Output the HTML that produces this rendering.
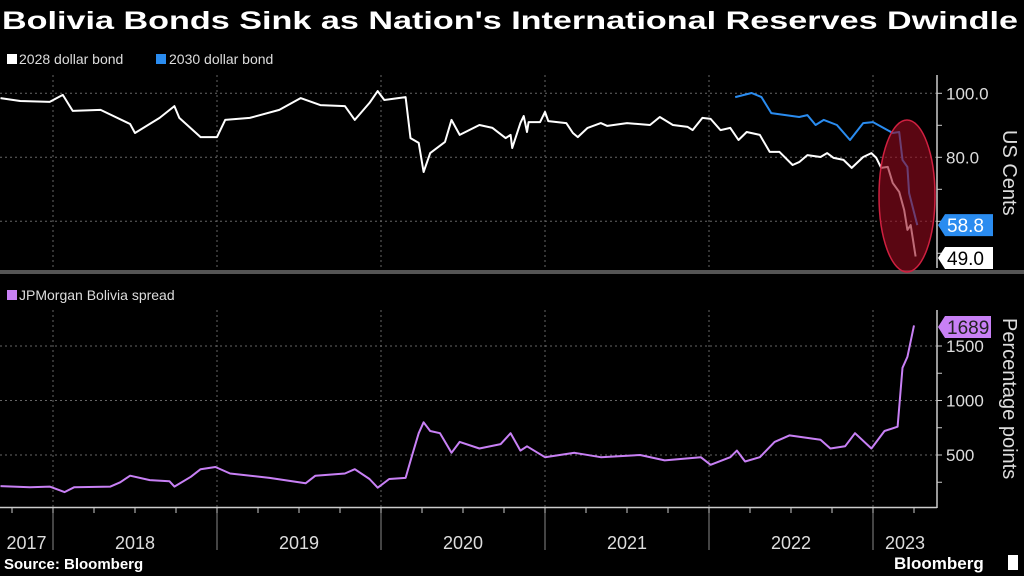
<!DOCTYPE html>
<html><head><meta charset="utf-8">
<style>
html,body{margin:0;padding:0;background:#000;}
svg{display:block;}
text{font-family:"Liberation Sans","DejaVu Sans",sans-serif;}
</style></head>
<body>
<svg id="chart" width="1024" height="576" viewBox="0 0 1024 576" xmlns="http://www.w3.org/2000/svg">
<rect x="0" y="0" width="1024" height="576" fill="#000"/>
<text x="2" y="29" fill="#fff" font-family="DejaVu Sans, sans-serif" font-weight="bold" font-size="25" textLength="1016" lengthAdjust="spacingAndGlyphs">Bolivia Bonds Sink as Nation's International Reserves Dwindle</text>
<g>
<rect x="7" y="54" width="10" height="10" fill="#fff"/>
<text x="19" y="64" fill="#ddd" font-size="14">2028 dollar bond</text>
<rect x="156" y="54" width="10" height="10" fill="#2a8cf0"/>
<text x="169" y="64" fill="#ddd" font-size="14">2030 dollar bond</text>
</g>
<g>
<rect x="7" y="290" width="10" height="10" fill="#c880f5"/>
<text x="19" y="300" fill="#ddd" font-size="14">JPMorgan Bolivia spread</text>
</g>
<rect x="0" y="270" width="1024" height="4" fill="#555"/>
<g id="grid"></g>
<g id="series"></g>
<g id="axes"></g>
<text x="0" y="0" transform="translate(1003,130) rotate(90)" fill="#ddd" font-size="20">US Cents</text>
<text x="0" y="0" transform="translate(1003,318) rotate(90)" fill="#ddd" font-size="20">Percentage points</text>
<text x="4" y="569" fill="#fff" font-size="15" font-weight="bold">Source: Bloomberg</text>
<text x="894" y="569" fill="#fff" font-size="17" font-weight="bold">Bloomberg</text>
<rect x="1008" y="555" width="10" height="15" fill="#fff"/>
</svg>
<script>
const bond2028Dates=[2017.68,2017.80,2017.98,2018.06,2018.12,2018.29,2018.47,2018.50,2018.65,2018.74,2018.77,2018.90,2019.00,2019.05,2019.20,2019.38,2019.51,2019.63,2019.78,2019.84,2019.93,2019.98,2020.02,2020.15,2020.18,2020.23,2020.26,2020.30,2020.39,2020.43,2020.48,2020.60,2020.68,2020.76,2020.79,2020.80,2020.85,2020.87,2020.89,2020.90,2020.97,2021.00,2021.02,2021.13,2021.17,2021.20,2021.26,2021.34,2021.38,2021.50,2021.64,2021.70,2021.78,2021.87,2021.90,2021.96,2022.01,2022.07,2022.13,2022.18,2022.23,2022.31,2022.37,2022.43,2022.51,2022.55,2022.60,2022.68,2022.72,2022.76,2022.82,2022.87,2022.94,2022.99,2023.02,2023.05,2023.09,2023.12,2023.16,2023.19,2023.21,2023.23,2023.26];
const bond2028Values=[98.5,97.6,97.3,99.5,94.5,94.8,90.4,87.6,92.3,96.0,92.3,86.3,86.3,91.7,92.3,94.8,98.5,96.3,96.0,91.7,97.0,100.7,97.9,98.8,86.0,84.5,75.4,81.3,84.8,91.7,87.0,90.1,89.2,86.0,87.0,82.9,90.7,92.9,87.9,91.0,91.0,94.2,91.3,90.7,87.6,86.3,89.2,90.7,89.8,90.7,90.1,92.6,90.1,89.5,88.5,92.3,92.0,88.5,89.2,85.4,87.9,87.0,81.7,81.7,77.6,78.5,80.7,80.1,81.3,79.8,79.2,76.7,80.1,81.3,79.8,76.7,77.0,72.0,69.2,63.5,57.3,58.8,49.0];
const bond2030Dates=[2022.16,2022.26,2022.32,2022.38,2022.55,2022.60,2022.65,2022.70,2022.78,2022.86,2022.94,2023.00,2023.12,2023.16,2023.18,2023.21,2023.22,2023.27];
const bond2030Values=[98.8,100.1,98.8,93.8,92.6,93.2,90.1,91.7,90.1,85.4,90.7,91.0,87.6,87.9,79.2,77.0,68.8,58.8];
const spreadDates=[2017.68,2017.86,2017.98,2018.07,2018.13,2018.35,2018.41,2018.47,2018.59,2018.71,2018.74,2018.84,2018.90,2018.99,2019.08,2019.32,2019.54,2019.60,2019.78,2019.84,2019.93,2019.98,2020.05,2020.15,2020.19,2020.23,2020.26,2020.30,2020.36,2020.43,2020.48,2020.60,2020.73,2020.79,2020.85,2020.89,2021.00,2021.18,2021.34,2021.58,2021.73,2021.95,2022.01,2022.13,2022.17,2022.22,2022.31,2022.40,2022.49,2022.68,2022.74,2022.83,2022.89,2022.99,2023.07,2023.15,2023.18,2023.21,2023.25];
const spreadValues=[215,205,210,160,205,210,250,310,270,260,210,300,370,390,330,290,240,310,330,370,280,200,280,290,500,700,800,720,700,520,620,560,600,700,540,580,480,520,480,500,450,480,410,480,540,440,480,620,680,640,560,580,700,560,720,760,1300,1400,1689];
const yearLabels=["2017","2018","2019","2020","2021","2022","2023"];
const topTicks=[100,80,60];
const bottomTicks=[1500,1000,500];

const NS="http://www.w3.org/2000/svg";
function xs(t){return 53+(t-2018)*164;}
function yTop(v){return 93.3+(100-v)*3.2;}
function yBot(v){return 455-(v-500)*0.109;}
function mk(parent,tag,attrs){const e=document.createElementNS(NS,tag);for(const k in attrs)e.setAttribute(k,attrs[k]);parent.appendChild(e);return e;}
const grid=document.getElementById('grid'),series=document.getElementById('series'),axes=document.getElementById('axes');
const AX=937;
// vertical year gridlines
for(let y=2018;y<=2023;y++){
  const x=xs(y);
  const l1=mk(grid,'line',{x1:x,y1:75,x2:x,y2:268,stroke:'#666','stroke-dasharray':'2,3','stroke-width':1});
  
  
  const l2=mk(grid,'line',{x1:x,y1:310,x2:x,y2:507,stroke:'#666','stroke-dasharray':'2,3','stroke-width':1});
  
  
  const l3=mk(axes,'line',{x1:x,y1:507,x2:x,y2:550,stroke:'#888','stroke-width':1});
  
  
}
// top panel
topTicks.forEach(v=>{
  const y=yTop(v);
  const g=mk(grid,'line',{x1:0,y1:y,x2:AX,y2:y,stroke:'#666','stroke-dasharray':'2,3'});
  
  
  const t=mk(axes,'text',{x:946,y:y+6,fill:'#ddd','font-size':17});
  t.textContent=v.toFixed(1);
  
  
});
[100,90,80,70,60,50].forEach(v=>{const y=yTop(v);const tk=mk(axes,'line',{x1:AX,y1:y,x2:AX+5,y2:y,stroke:'#ccc'});
  
  });
const ta=mk(axes,'line',{x1:AX,y1:75,x2:AX,y2:268,stroke:'#ccc','stroke-width':1.5});


// bottom panel
bottomTicks.forEach(v=>{
  const y=yBot(v);
  const g=mk(grid,'line',{x1:0,y1:y,x2:AX,y2:y,stroke:'#666','stroke-dasharray':'2,3'});
  
  
  const t=mk(axes,'text',{x:946,y:y+6,fill:'#ddd','font-size':17});
  t.textContent=v;
  
  
});
[1500,1250,1000,750,500,250].forEach(v=>{const y=yBot(v);const tk=mk(axes,'line',{x1:AX,y1:y,x2:AX+5,y2:y,stroke:'#ccc'});
  
  });
const ba=mk(axes,'line',{x1:AX,y1:310,x2:AX,y2:508,stroke:'#ccc','stroke-width':1.5});


const xa=mk(axes,'line',{x1:0,y1:507.5,x2:AX,y2:507.5,stroke:'#ccc','stroke-width':1.5});


for(let q=2017.75;q<=2023.3;q+=0.25){const x=xs(q);const tk=mk(axes,'line',{x1:x,y1:507,x2:x,y2:513,stroke:'#ccc'});
  
  }
yearLabels.forEach((lab,i)=>{
  const y0=2017+i;
  let a=Math.max(xs(y0),0),b=Math.min(xs(y0+1),AX);
  const t=mk(axes,'text',{x:(a+b)/2,y:549,fill:'#ddd','font-size':18,'text-anchor':'middle'});
  t.textContent=lab;
  
  
});
function pts(d,v,f){return d.map((t,i)=>xs(t).toFixed(1)+','+f(v[i]).toFixed(1)).join(' ');}
const l28=mk(series,'polyline',{points:pts(bond2028Dates,bond2028Values,yTop),fill:'none',stroke:'#fff','stroke-width':2,'stroke-linejoin':'round'});


const l30=mk(series,'polyline',{points:pts(bond2030Dates,bond2030Values,yTop),fill:'none',stroke:'#2a8cf0','stroke-width':2,'stroke-linejoin':'round'});


const ls=mk(series,'polyline',{points:pts(spreadDates,spreadValues,yBot),fill:'none',stroke:'#c880f5','stroke-width':2,'stroke-linejoin':'round'});


const el=mk(series,'ellipse',{cx:907,cy:196,rx:28,ry:76,fill:'rgba(150,10,30,0.6)',stroke:'#d02040','stroke-width':1.5});


function tag(val,y,bg,fg,name,txt,w){
  const g=mk(axes,'g',{});
  
  
  mk(g,'path',{d:`M${AX+1},${y} L${AX+8},${y-11} L${AX+8+w},${y-11} L${AX+8+w},${y+11} L${AX+8},${y+11} Z`,fill:bg});
  const t=mk(g,'text',{x:AX+10,y:y+7,fill:fg,'font-size':19});
  t.textContent=txt;
}
tag(0,yTop(bond2030Values[bond2030Values.length-1]),'#2a8cf0','#fff','value-tag-2030','58.8',48);
tag(0,258,'#fff','#000','value-tag-2028','49.0',48);
tag(0,327,'#c880f5','#222','value-tag-spread',String(spreadValues[spreadValues.length-1]),46);
</script>
</body></html>
